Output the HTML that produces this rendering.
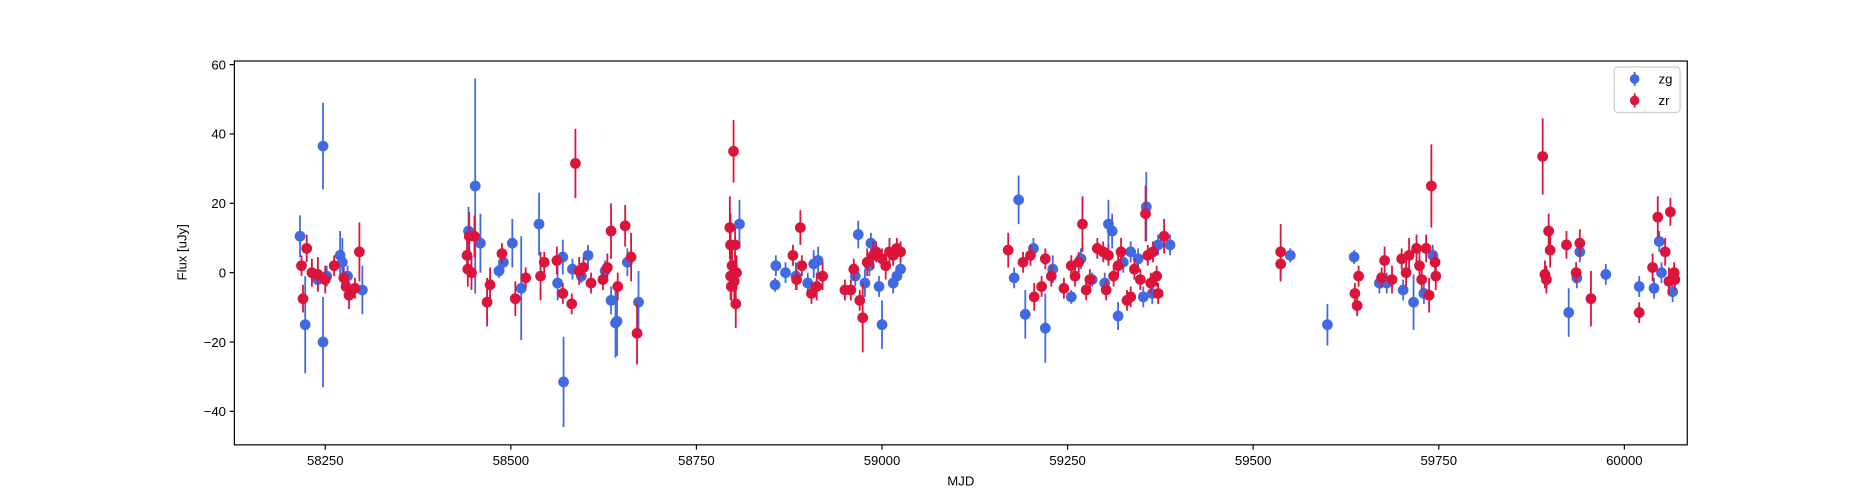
<!DOCTYPE html>
<html><head><meta charset="utf-8">
<style>
body{margin:0;background:#fff;}
svg{display:block;font-family:"Liberation Sans","DejaVu Sans",sans-serif;}
</style></head>
<body>
<svg id="chart" width="1875" height="500" viewBox="0 0 1568 418.1"></svg>
<script>
const zgMjd=[58216,58223,58240,58247,58247,58252,58270,58273,58280,58300,58443,58452,58459,58484,58490,58502,58514,58538,58563,58570,58571,58583,58595,58604,58627,58635,58641,58643,58657,58672,58808,58857,58856,58870,58884,58900,58908,58914,58964,58968,58977,58983,58985,58996,59000,59015,59020,59025,59178,59184,59193,59204,59220,59230,59255,59268,59283,59300,59305,59310,59318,59325,59335,59345,59352,59356,59364,59372,59388,59550,59600,59636,59670,59680,59702,59716,59730,59742,59925,59936,59940,59975,60020,60040,60047,60050,60065];
const zgFlux=[10.5,-15,-2,36.5,-20,-1,5,3,-1,-5,12,25,8.5,0.5,3,8.5,-4.5,14,-3,4.5,-31.5,1,-1,5,0.5,-8,-14.5,-14,3,-8.5,14,2,-3.5,0,-1,-3,2.5,3.5,-1,11,-3,2,8.5,-4,-15,-3,-1,1,-1.5,21,-12,7,-16,1,-7,4,-2,-3,14,12,-12.5,3,6,4,-7,19,-6,8,8,5,-15,4.5,-3,-3,-5,-8.5,-6,5,-11.5,-1.5,6,-0.5,-4,-4.5,9,0,-5.5];
const zgErr=[6,14,3,12.5,13,3,7,7,3,7,7,31,8.5,2,3,7,15,9,5,5,13,3,2,3,3,4,10,10,4,9,7,3,2,3,4,3,4,4,3,4,4,3,3,3,7,3,3,3,3,7,7,3,10,4,2,3,2,3,7,5,4,3,3,3,3,10,3,3,3,2,6,2,3,3,3,8,3,3,7,3,3,3,3,3,3,3,3];
const zrMjd=[58218,58220,58225,58232,58240,58250,58262,58275,58278,58282,58290,58296,58441,58442,58444,58447,58451,58468,58472,58488,58506,58520,58540,58545,58562,58570,58582,58587,58592,58598,58608,58624,58630,58635,58644,58654,58662,58670,58795,58796,58796,58797,58798,58800,58801,58802,58803,58804,58880,58885,58890,58892,58905,58912,58920,58950,58958,58962,58970,58974,58980,58988,58992,59000,59005,59010,59015,59020,59025,59170,59190,59200,59205,59215,59220,59228,59245,59255,59260,59265,59270,59275,59280,59290,59298,59302,59305,59312,59318,59322,59330,59335,59340,59348,59355,59358,59362,59365,59370,59372,59380,59537,59537,59637,59640,59642,59673,59677,59687,59700,59706,59710,59720,59724,59727,59733,59737,59740,59745,59746,59890,59893,59895,59898,59900,59922,59935,59940,59955,60020,60038,60045,60055,60060,60062,60067,60068];
const zrFlux=[2,-7.5,7,0,-0.5,-2,2,-1.5,-4,-6.5,-4.5,6,5,1,10.5,0,10.5,-8.5,-3.5,5.5,-7.5,-1.5,-1,3,3.5,-6,-9,31.5,0.5,1.5,-3,-2,1.5,12,-4,13.5,4.5,-17.5,13,8,-1,-4,2,35,-2.5,8,-9,0,5,-2,13,2,-6,-4,-1,-5,-5,1,-8,-13,3,5,6,4,2,6,5,7,6,6.5,3,5,-7,-4,4,-1,-4.5,2,-1,3,14,-5,-2,7,6,-5,5,-1,2,6,-8,-7,1,-2,17,5,-3,6,-1,-6,10.5,6,2.5,-6,-9.5,-1,-1.5,3.5,-2,4,0,5,7,2,-2,7,-6.5,25,3,-1,33.5,-0.5,-2,12,6.5,8,0,8.5,-7.5,-11.5,1.5,16,6,-2.5,17.5,0,-2];
const zrErr=[3,4,4,4,5,4,3,3,3,4,3,8.5,5,5,7,5,6,7,5,3,5,3,7,3,4,3,3,10,4,3,3,3,4,8,4,6,7,9,9,9,7,4,5,9,6,5,7,5,3,3,5,3,3,4,4,3,3,3,3,10,4,4,3,3,4,4,3,3,3,5,3,3,4,3,3,3,3,3,3,3,8,3,3,3,3,3,3,3,3,4,3,3,3,3,8,3,3,3,3,3,5,8,5,3,3,3,3,4,4,3,4,5,4,4,3,4,5,12,3,4,11,4,4,5,5,4,3,4,8,3,4,6,4,4,4,3,3];
const xTicks=[58250,58500,58750,59000,59250,59500,59750,60000];
const yTicks=[-40,-20,0,20,40,60];

const NS="http://www.w3.org/2000/svg";
const svg=document.getElementById('chart');
const L=196,R=1411,T=51,B=372;
function xs(v){return 272+(v-58250)*155.2/250;}
function ys(v){return 228-v*2.9;}
function mk(tag,attrs,parent){const e=document.createElementNS(NS,tag);for(const k in attrs)e.setAttribute(k,attrs[k]);(parent||svg).appendChild(e);return e;}

function series(mjd,flux,err,color,name){
  const g=mk('g',{});
  
  
  for(let i=0;i<mjd.length;i++){
    const x=xs(mjd[i]);
    const l=mk('line',{x1:x,x2:x,y1:ys(flux[i]-err[i]),y2:ys(flux[i]+err[i]),stroke:color,'stroke-width':1.5},g);
    
    
    const c=mk('circle',{cx:x,cy:ys(flux[i]),r:4.5,fill:color},g);
    
    
  }
}
series(zgMjd,zgFlux,zgErr,'#4169e1','zg');
series(zrMjd,zrFlux,zrErr,'#dc143c','zr');

const frame=mk('rect',{x:L,y:T,width:R-L,height:B-T,fill:'none',stroke:'#000','stroke-width':1});



xTicks.forEach(t=>{
  const x=xs(t);
  mk('line',{x1:x,x2:x,y1:B,y2:B+4,stroke:'#000'});
  const tx=mk('text',{x:x,y:B+17,'text-anchor':'middle','font-size':11,fill:'#000'});
  tx.textContent=t;
  
  
});
yTicks.forEach(t=>{
  const y=ys(t);
  mk('line',{x1:L-4,x2:L,y1:y,y2:y,stroke:'#000'});
  const tx=mk('text',{x:L-7,y:y+4,'text-anchor':'end','font-size':11,fill:'#000'});
  tx.textContent=t<0?'\u2212'+(-t):t;
  
  
});
const xt=mk('text',{x:(L+R)/2,y:406,'text-anchor':'middle','font-size':11});
xt.textContent='MJD';


const yt=mk('text',{x:156,y:211,'text-anchor':'middle','font-size':11,transform:'rotate(-90 156 211)'});
yt.textContent='Flux [uJy]';



const lg=mk('g',{});


mk('rect',{x:1350,y:56,width:55,height:38,rx:3,fill:'#fff',stroke:'#ccc'},lg);
[['zg','#4169e1',66],['zr','#dc143c',84]].forEach(([n,c,y])=>{
  const e=mk('g',{},lg);
  
  
  mk('line',{x1:1367,x2:1367,y1:y-6,y2:y+6,stroke:c,'stroke-width':1.5},e);
  mk('circle',{cx:1367,cy:y,r:4,fill:c},e);
  const t=mk('text',{x:1387,y:y+4,'font-size':11},e);
  t.textContent=n;
});
</script>
</body></html>
